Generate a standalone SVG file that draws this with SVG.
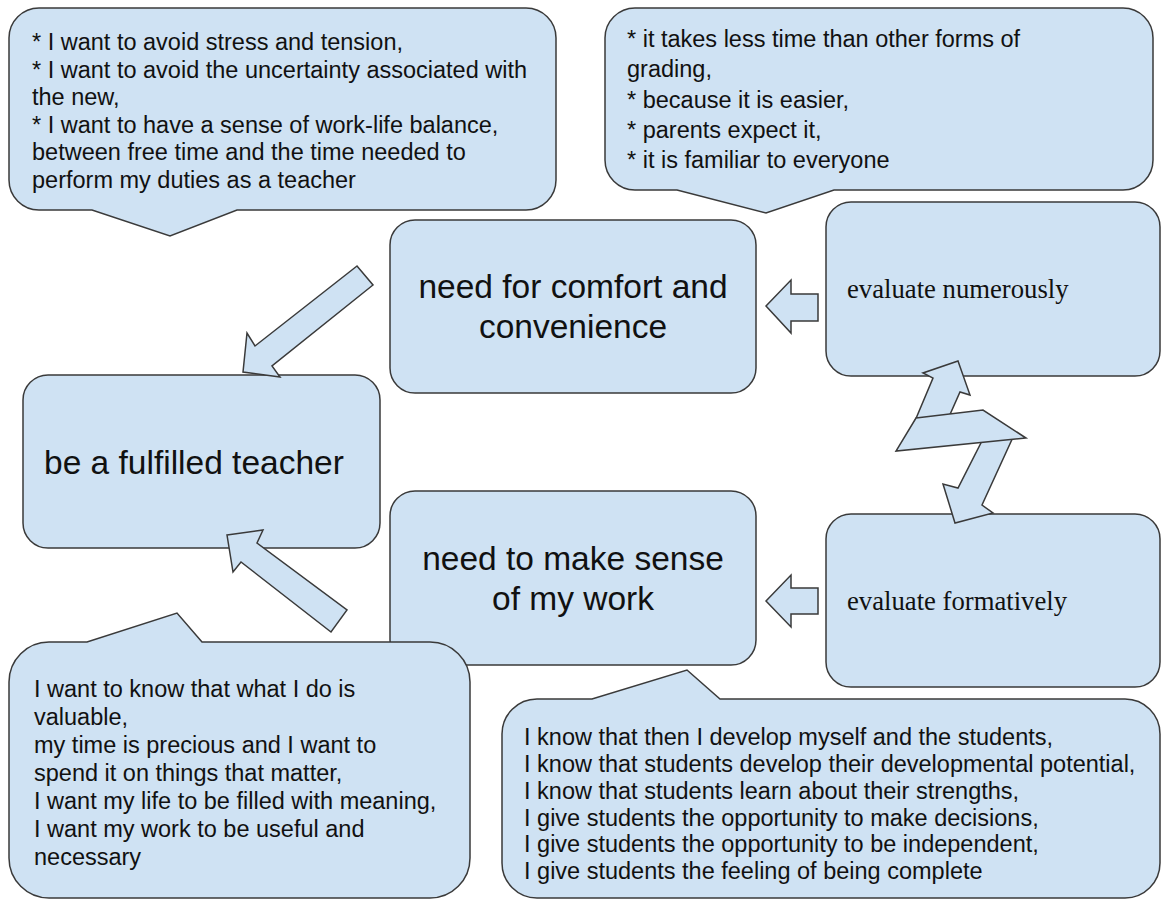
<svg xmlns="http://www.w3.org/2000/svg" width="1161" height="899" viewBox="0 0 1161 899">
<style>
.shape{fill:#cfe2f3;stroke:#3a3a3a;stroke-width:1.5;stroke-linejoin:miter}
.t{font-family:"Liberation Sans",Arial,sans-serif;fill:#111}
.s{font-size:23.5px}
.b{font-size:33.5px}
.serif{font-family:"Liberation Serif","Times New Roman",serif;font-size:26.7px;fill:#111}
</style>
<rect width="1161" height="899" fill="#ffffff"/>

<g id="callout-comfort-reasons">
<path class="shape" d="M39,8 H526 A30,30 0 0 1 556,38 V180 A30,30 0 0 1 526,210 H237 L170,236 L92,210 H39 A30,30 0 0 1 9,180 V38 A30,30 0 0 1 39,8 Z"/>
<text class="t s" x="32" y="50">* I want to avoid stress and tension,</text>
<text class="t s" x="32" y="77.6">* I want to avoid the uncertainty associated with</text>
<text class="t s" x="32" y="105.2">the new,</text>
<text class="t s" x="32" y="132.8">* I want to have a sense of work-life balance,</text>
<text class="t s" x="32" y="160.4">between free time and the time needed to</text>
<text class="t s" x="32" y="188">perform my duties as a teacher</text>
</g>

<g id="callout-numeric-reasons">
<path class="shape" d="M635,8 H1123 A30,30 0 0 1 1153,38 V160 A30,30 0 0 1 1123,190 H834 L766,213 L677,190 H635 A30,30 0 0 1 605,160 V38 A30,30 0 0 1 635,8 Z"/>
<text class="t s" x="627" y="47">* it takes less time than other forms of</text>
<text class="t s" x="627" y="77.3">grading,</text>
<text class="t s" x="627" y="107.6">* because it is easier,</text>
<text class="t s" x="627" y="137.9">* parents expect it,</text>
<text class="t s" x="627" y="168.2">* it is familiar to everyone</text>
</g>

<g id="node-comfort">
<rect class="shape" x="390" y="220" width="366" height="173" rx="25" ry="25"/>
<text class="t b" x="573" y="298" text-anchor="middle">need for comfort and</text>
<text class="t b" x="573" y="338" text-anchor="middle">convenience</text>
</g>

<g id="node-numerously">
<rect class="shape" x="826" y="202" width="334" height="174" rx="25" ry="25"/>
<text class="serif" x="847" y="298">evaluate numerously</text>
</g>

<g id="node-fulfilled">
<rect class="shape" x="23" y="375" width="357" height="173" rx="25" ry="25"/>
<text class="t b" x="44" y="474">be a fulfilled teacher</text>
</g>

<g id="node-sense">
<rect class="shape" x="390" y="491" width="366" height="174" rx="25" ry="25"/>
<text class="t b" x="573" y="570" text-anchor="middle">need to make sense</text>
<text class="t b" x="573" y="610" text-anchor="middle">of my work</text>
</g>

<g id="node-formatively">
<rect class="shape" x="826" y="514" width="334" height="173" rx="25" ry="25"/>
<text class="serif" x="847" y="610">evaluate formatively</text>
</g>

<g id="connectors">
<polygon class="shape" points="357,266 255,346 247,333 243,372 280,377 272,366 373,285"/>
<polygon class="shape" points="227,535 263,530 257,543 347,610 331,632 241,562 233,572"/>
<polygon class="shape" points="766,306 791,280 791,294 818,294 818,321 791,321 791,333"/>
<polygon class="shape" points="766,601 791,575 791,588 818,588 818,614 791,614 791,627"/>
<polygon class="shape" points="958,361 970,395 960,392 944,428 912,428 933,378 923,373"/>
<polygon class="shape" points="985,435 1014,435 982,505 993,513 955,523 943,484 958,488"/>
<polygon class="shape" points="916,418 983,410 1026,438 896,451"/>
</g>

<g id="callout-meaning-reasons">
<path class="shape" d="M49,642 H87 L177,613 L202,642 H430 A40,40 0 0 1 470,682 V858 A40,40 0 0 1 430,898 H49 A40,40 0 0 1 9,858 V682 A40,40 0 0 1 49,642 Z"/>
<text class="t s" x="34" y="697">I want to know that what I do is</text>
<text class="t s" x="34" y="725">valuable,</text>
<text class="t s" x="34" y="753">my time is precious and I want to</text>
<text class="t s" x="34" y="781">spend it on things that matter,</text>
<text class="t s" x="34" y="809">I want my life to be filled with meaning,</text>
<text class="t s" x="34" y="837">I want my work to be useful and</text>
<text class="t s" x="34" y="865">necessary</text>
</g>

<g id="callout-formative-reasons">
<path class="shape" d="M537,699 H592 L687,670 L720,699 H1125 A35,35 0 0 1 1160,734 V863 A35,35 0 0 1 1125,898 H537 A35,35 0 0 1 502,863 V734 A35,35 0 0 1 537,699 Z"/>
<text class="t s" x="524" y="745">I know that then I develop myself and the students,</text>
<text class="t s" x="524" y="772">I know that students develop their developmental potential,</text>
<text class="t s" x="524" y="799">I know that students learn about their strengths,</text>
<text class="t s" x="524" y="826">I give students the opportunity to make decisions,</text>
<text class="t s" x="524" y="852">I give students the opportunity to be independent,</text>
<text class="t s" x="524" y="879">I give students the feeling of being complete</text>
</g>
</svg>
